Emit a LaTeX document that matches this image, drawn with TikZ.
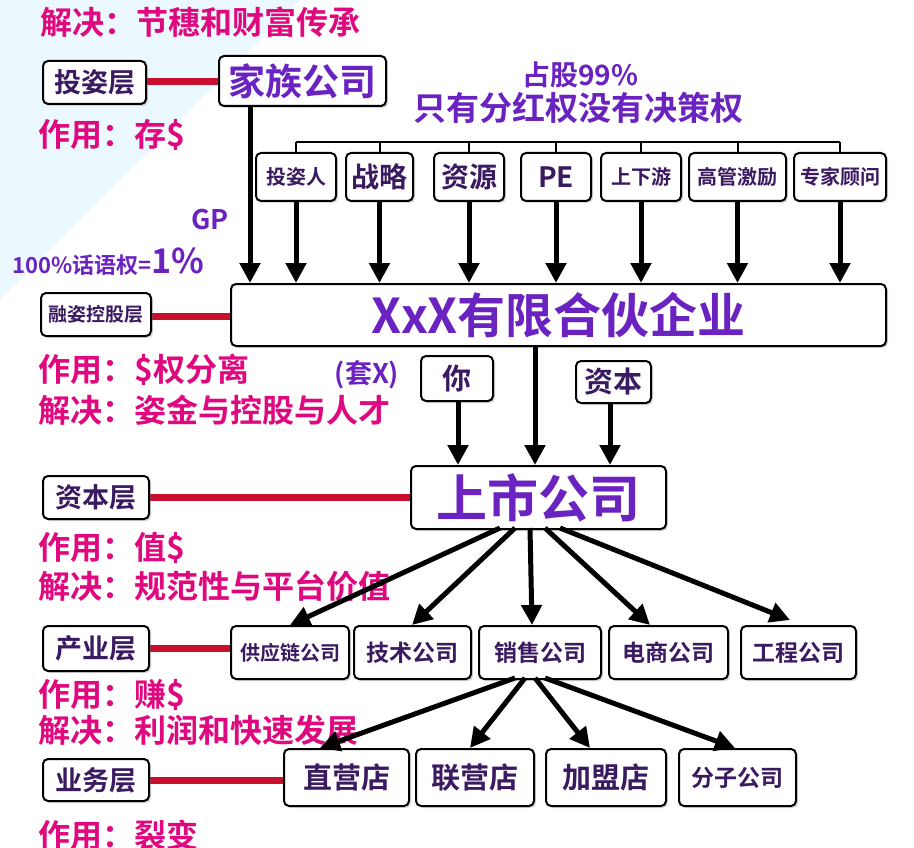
\documentclass[tikz,border=0pt]{standalone}
\usepackage{fontspec}
\setmainfont{Noto Sans CJK SC}[BoldFont={* Bold}]
\usetikzlibrary{arrows.meta,shadows}
\definecolor{pk}{HTML}{E0087F}
\definecolor{pu}{HTML}{6A22C0}
\definecolor{dp}{HTML}{3A1A60}
\definecolor{rb}{HTML}{C8102E}
\tikzset{
 bx/.style={draw=black,line width=2pt,rounded corners=5pt,fill=white,drop shadow={shadow xshift=2pt,shadow yshift=-2pt,opacity=.3},font=\bfseries,text=dp,inner sep=0pt},
 lbl/.style={font=\bfseries\fontsize{32}{34}\selectfont,text=pk,anchor=west,inner sep=0pt},
 pl/.style={font=\bfseries,text=pu,inner sep=0pt},
 bar/.style={draw=rb,line width=7pt},
 ar/.style={draw=black,line width=5pt,-{Triangle[length=20pt,width=20pt]}},
 br/.style={draw=black,line width=2pt}
}
\begin{document}
\begin{tikzpicture}[x=1pt,y=-1pt]
\useasboundingbox (0,0) rectangle (914,848);
\fill[white] (0,0) rectangle (914,848);
\fill[cyan!8] (0,0) -- (300,0) -- (0,300) -- cycle;
% labels
\node[lbl] (l1) at (40,22) {解决：节穗和财富传承};
\node[lbl] (l2) at (38,135) {作用：存\$};
\node[lbl] (l3) at (38,370) {作用：\$权分离};
\node[lbl] (l4) at (38,410) {解决：姿金与控股与人才};
\node[lbl] (l5) at (38,548) {作用：值\$};
\node[lbl] (l6) at (38,586) {解决：规范性与平台价值};
\node[lbl] (l7) at (38,695) {作用：赚\$};
\node[lbl] (l8) at (38,730) {解决：利润和快速发展};
\node[lbl] (l9) at (38,835) {作用：裂变};
% red bars
\draw[bar] (145,82) -- (218,82);
\draw[bar] (150,316) -- (230,316);
\draw[bar] (148,497) -- (410,497);
\draw[bar] (148,648) -- (230,648);
\draw[bar] (148,780) -- (285,780);
% layer boxes
\node[bx,minimum width=103pt,minimum height=43pt,font=\bfseries\fontsize{27}{27}\selectfont,anchor=north west] (c1) at (42,60) {投姿层};
\node[bx,minimum width=110pt,minimum height=43pt,font=\bfseries\fontsize{19}{19}\selectfont,anchor=north west] (c2) at (40,292) {融姿控股层};
\node[bx,minimum width=106pt,minimum height=43pt,font=\bfseries\fontsize{27}{27}\selectfont,anchor=north west] (c3) at (42,475) {资本层};
\node[bx,minimum width=106pt,minimum height=45pt,font=\bfseries\fontsize{27}{27}\selectfont,anchor=north west] (c4) at (42,625) {产业层};
\node[bx,minimum width=106pt,minimum height=42pt,font=\bfseries\fontsize{27}{27}\selectfont,anchor=north west] (c5) at (42,758) {业务层};
% family
\node[bx,minimum width=167pt,minimum height=50pt,font=\bfseries\fontsize{37}{37}\selectfont,text=pu,anchor=north west] (fam) at (218,55) {家族公司};
\node[pl,font=\bfseries\fontsize{28}{28}\selectfont] (t1) at (580,75) {占股99\%};
\node[pl,font=\bfseries\fontsize{33}{33}\selectfont] (t2) at (578,108) {只有分红权没有决策权};
\node[pl,font=\bfseries\fontsize{27}{27}\selectfont] (gp) at (210,220) {GP};
\node[pl,anchor=west] (t3) at (12,262) {\fontsize{22}{22}\selectfont 100\%话语权=\fontsize{34}{34}\selectfont 1\%};
% small boxes
\foreach \n/\a/\b/\t/\s in {s1/255/335/投姿人/20,s2/345/412/战略/28,s3/433/503/资源/28,s4/520/590/PE/28,s5/600/680/上下游/20,s6/688/785/高管激励/20,s7/793/885/专家顾问/20}{
 \node[bx,minimum width=\b-\a,minimum height=48pt,anchor=north west,font=\bfseries\fontsize{\s}{\s}\selectfont] (\n) at (\a,152) {\t};
}
\coordinate (bl) at (298,142);
\draw[br] (s1.north |- bl) -- (s7.north |- bl);
\foreach \n in {s1,s2,s3,s4,s5,s6,s7}{\draw[br] (\n.north |- bl) -- (\n.north);}
% XXX
\node[bx,minimum width=655pt,minimum height=62pt,anchor=north west,font=\bfseries\fontsize{48}{48}\selectfont,text=pu] (xxx) at (230,283) {XxX有限合伙企业};
\foreach \n in {s1,s2,s3,s4,s5,s6,s7}{\draw[ar] (\n.south) -- (\n.south |- xxx.north);}
\draw[ar] (250,105) -- (250,283);
% you/capital
\node[pl,font=\bfseries\fontsize{27}{27}\selectfont] (tx) at (367,375) {(套X)};
\node[bx,minimum width=72pt,minimum height=45pt,anchor=north west,font=\bfseries\fontsize{29}{29}\selectfont] (you) at (420,355) {你};
\node[bx,minimum width=75pt,minimum height=42pt,anchor=north west,font=\bfseries\fontsize{29}{29}\selectfont] (cap) at (575,360) {资本};
\node[bx,minimum width=255pt,minimum height=63pt,anchor=north west,font=\bfseries\fontsize{51}{51}\selectfont,text=pu] (ls) at (410,465) {上市公司};
\draw[ar] (458,400) -- (458,465);
\draw[ar] (535,345) -- (535,465);
\draw[ar] (610,402) -- (610,465);
% industry
\foreach \n/\a/\b/\t/\s in {i1/230/348/供应链公司/20,i2/353/470/技术公司/23,i3/478/600/销售公司/23,i4/608/727/电商公司/23,i5/740/855/工程公司/23}{
 \node[bx,minimum width=\b-\a,minimum height=53pt,anchor=north west,font=\bfseries\fontsize{\s}{\s}\selectfont] (\n) at (\a,625) {\t};
}
\draw[ar] (500,528) -- (290,625);
\draw[ar] (515,528) -- (412,625);
\draw[ar] (530,528) -- (532,625);
\draw[ar] (545,528) -- (650,625);
\draw[ar] (560,528) -- (790,620);
% business
\foreach \n/\a/\b/\t/\s in {b1/283/408/直营店/29,b2/415/533/联营店/29,b3/545/665/加盟店/29,b4/678/795/分子公司/23}{
 \node[bx,minimum width=\b-\a,minimum height=57pt,anchor=north west,font=\bfseries\fontsize{\s}{\s}\selectfont] (\n) at (\a,748) {\t};
}
\draw[ar] (515,678) -- (320,748);
\draw[ar] (525,678) -- (470,748);
\draw[ar] (535,678) -- (590,748);
\draw[ar] (545,678) -- (735,748);
\end{tikzpicture}
\end{document}
